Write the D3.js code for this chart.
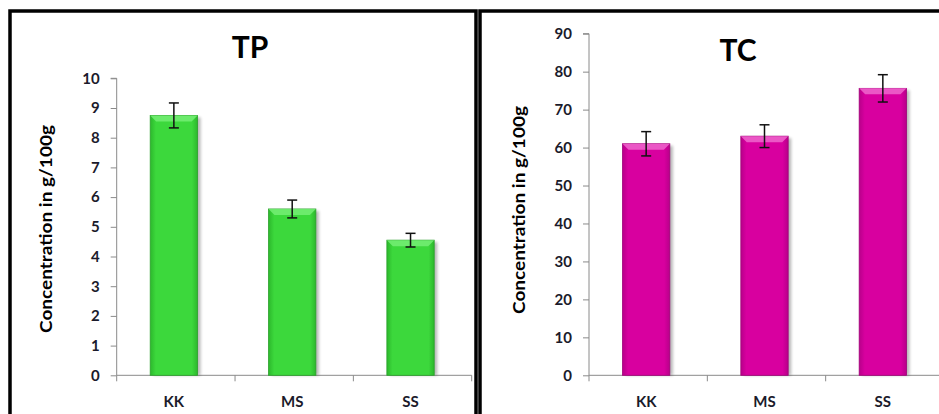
<!DOCTYPE html>
<html><head><meta charset="utf-8">
<script src="https://cdn.jsdelivr.net/npm/d3@7"></script>
<style>body{margin:0;background:#fff}svg{display:block}</style>
</head><body>
<script>
const categories = ["KK","MS","SS"];
const tpValues = [8.75, 5.6, 4.55];
const tpErrors = [0.42, 0.3, 0.23];
const tcValues = [61.0, 63.0, 75.6];
const tcErrors = [3.2, 3.0, 3.6];
const tpTicks = [0,1,2,3,4,5,6,7,8,9,10];
const tcTicks = [0,10,20,30,40,50,60,70,80,90];

const W = 939, H = 414;
const svg = d3.select("body").append("svg").attr("width", W).attr("height", H);
const defs = svg.append("defs");

function makeGrad(id, dark, mid) {
  const g = defs.append("linearGradient").attr("id", id).attr("x1","0").attr("x2","1").attr("y1","0").attr("y2","0");
  g.append("stop").attr("offset","0%").attr("stop-color", dark);
  g.append("stop").attr("offset","12%").attr("stop-color", mid);
  g.append("stop").attr("offset","88%").attr("stop-color", mid);
  g.append("stop").attr("offset","100%").attr("stop-color", dark);
}
makeGrad("gGreen", "#2cb82c", "#3cd83c");
makeGrad("gMag", "#b8008a", "#d8009f");
const blur = defs.append("filter").attr("id","shadow").attr("x","-20%").attr("y","-5%").attr("width","150%").attr("height","120%");
blur.append("feGaussianBlur").attr("stdDeviation", 1.6);

const font = "Lato, 'Open Sans', sans-serif";

// panel frames
svg.append("rect").attr("x",10).attr("y",11).attr("width",466).attr("height",420)
  .attr("fill","none").attr("stroke","#000").attr("stroke-width",3.5);
svg.append("rect").attr("x",480).attr("y",11).attr("width",470).attr("height",420)
  .attr("fill","none").attr("stroke","#000").attr("stroke-width",3.5);

function panel(opt) {
  const g = svg.append("g");
  const y = d3.scaleLinear().domain(opt.domain).range([375.3, opt.yTop]);
  const x = d3.scaleBand().domain(categories).range([opt.x0, opt.x1]).paddingInner(0.6).paddingOuter(0.3);
  const step = x.step();

  // y axis
  const yAxis = d3.axisLeft(y).tickValues(opt.ticks).tickSize(6).tickPadding(11);
  const ya = g.append("g").attr("transform", `translate(${opt.x0},0)`).call(yAxis);
  ya.select(".domain").attr("stroke","#8a8a8a").attr("d", `M-6,${y(opt.domain[1])}H0V${y(0)}`);
  ya.selectAll(".tick line").attr("stroke","#8a8a8a");
  ya.selectAll(".tick text").attr("font-family", font).attr("font-weight","bold")
    .attr("font-size", 15).attr("fill","#1b1b2b");

  // x axis with separators
  const xa = g.append("g");
  xa.append("line").attr("x1", opt.x0).attr("x2", opt.x1).attr("y1", y(0)).attr("y2", y(0))
    .attr("stroke","#8a8a8a");
  d3.range(categories.length + 1).forEach(i => {
    const px = opt.x0 + i * step;
    xa.append("line").attr("x1", px).attr("x2", px).attr("y1", y(0)).attr("y2", y(0) + 6)
      .attr("stroke","#8a8a8a");
  });
  xa.selectAll("text.cat").data(categories).join("text").attr("class","cat")
    .attr("x", d => x(d) + x.bandwidth()/2 - 2).attr("y", 407)
    .attr("text-anchor","middle").attr("font-family", font).attr("font-weight","bold")
    .attr("font-size", 15).attr("fill","#1b1b2b").text(d => d);

  // bars
  const data = categories.map((c,i) => ({c, v: opt.values[i], e: opt.errors[i]}));
  const bw = x.bandwidth();
  const bars = g.append("g");
  bars.selectAll("rect.sh").data(data).join("rect").attr("class","sh")
    .attr("x", d => x(d.c) - 2 + 3).attr("y", d => y(d.v) + 2)
    .attr("width", bw).attr("height", d => y(0) - y(d.v) - 2)
    .attr("fill","#000").attr("opacity",0.28).attr("filter","url(#shadow)");
  bars.selectAll("rect.bar").data(data).join("rect").attr("class","bar")
    .attr("x", d => x(d.c) - 2).attr("y", d => y(d.v))
    .attr("width", bw).attr("height", d => y(0) - y(d.v))
    .attr("fill", `url(#${opt.grad})`).attr("stroke", opt.edge).attr("stroke-width", 0.8);
  // top bevel
  bars.selectAll("path.bev").data(data).join("path").attr("class","bev")
    .attr("d", d => {
      const l = x(d.c) - 2, t = y(d.v), r = l + bw;
      return `M${l},${t}H${r}L${r-6},${t+6}H${l+6}Z`;
    })
    .attr("fill", opt.light).attr("opacity", 0.85);

  // error bars
  const eb = g.append("g").attr("stroke","#111").attr("stroke-width",1.5);
  data.forEach(d => {
    const cx = x(d.c) + bw/2 - 2;
    eb.append("line").attr("x1",cx).attr("x2",cx).attr("y1",y(d.v + d.e)).attr("y2",y(d.v - d.e));
    eb.append("line").attr("x1",cx-5).attr("x2",cx+5).attr("y1",y(d.v + d.e)).attr("y2",y(d.v + d.e));
    eb.append("line").attr("x1",cx-5).attr("x2",cx+5).attr("y1",y(d.v - d.e)).attr("y2",y(d.v - d.e));
  });

  // title
  g.append("text").attr("x", opt.titleX).attr("y", opt.titleY).attr("text-anchor","middle")
    .attr("font-family", font).attr("font-weight","bold").attr("font-size", 30).attr("fill","#000")
    .text(opt.title);
  // y label
  g.append("text").attr("transform", `translate(${opt.labelX},${opt.labelY}) rotate(-90)`)
    .attr("text-anchor","middle").attr("dominant-baseline","central")
    .attr("font-family", font).attr("font-weight","bold").attr("font-size", 17).attr("fill","#000")
    .attr("textLength", 208).attr("lengthAdjust","spacingAndGlyphs")
    .text("Concentration in g/100g");
}

panel({domain:[0,10], yTop:78.3, ticks: tpTicks, x0:116.7, x1:471.7, values: tpValues, errors: tpErrors,
  grad:"gGreen", edge:"#2aa02a", light:"#74ee74", title:"TP", titleX:250, titleY:58, labelX:45, labelY:229});
panel({domain:[0,90], yTop:33.7, ticks: tcTicks, x0:589, x1:944, values: tcValues, errors: tcErrors,
  grad:"gMag", edge:"#a00078", light:"#ee66cc", title:"TC", titleX:738, titleY:61, labelX:518, labelY:210});
</script>
</body></html>
